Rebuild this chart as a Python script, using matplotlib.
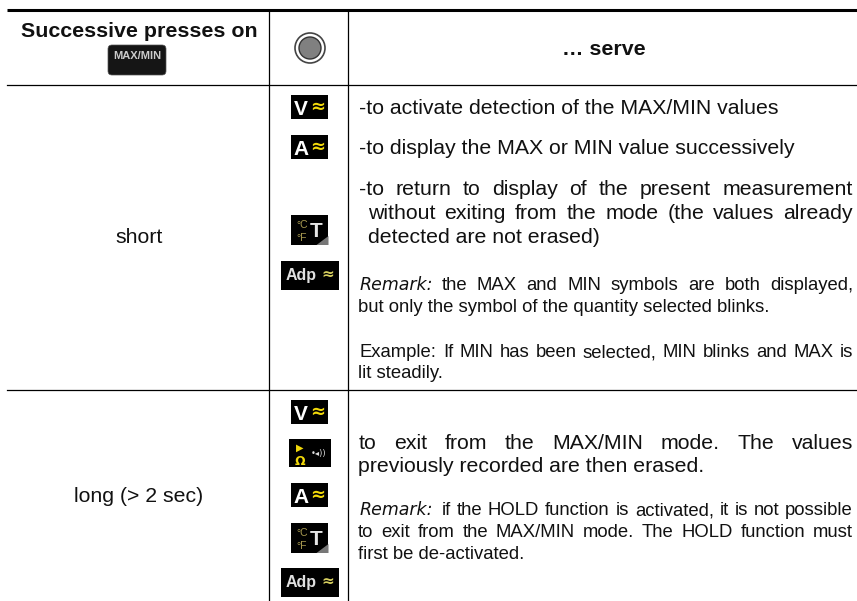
import matplotlib
matplotlib.use('Agg')
import matplotlib.pyplot as plt
import matplotlib.patches as patches

plt.rcParams['font.family'] = ['Liberation Sans', 'DejaVu Sans']

header_left = "Successive presses on"
header_right = "… serve"
row_labels = ["short", "long (> 2 sec)"]
short_icons = ["V", "A", "T", "Adp"]
long_icons = ["V", "D", "A", "T", "Adp"]

fig = plt.figure(figsize=(8.57, 6.01), dpi=100)
ax = fig.add_axes([0, 0, 1, 1])
ax.set_xlim(0, 857)
ax.set_ylim(601, 0)
ax.axis('off')

BODY = 15.3
SMALL = 13.3
RIGHT = 853


def justified(y, words, x0, x1, size=BODY):
    # spread the words by hand so the line fills x0..x1
    items = [ax.text(x0, y, w, fontsize=size, va='baseline', color='#111111') for w in words]
    r = fig.canvas.get_renderer()
    widths = [t.get_window_extent(r).width for t in items]
    gap = (x1 - x0 - sum(widths)) / max(len(words) - 1, 1)
    x = x0
    for t, w in zip(items, widths):
        t.set_x(x)
        x += w + gap


def remark(y, words, x0, x1):
    t = ax.text(x0, y, "Remark:", fontsize=12.5, style='italic', family='DejaVu Sans', va='baseline', color='#111111')
    w = t.get_window_extent(fig.canvas.get_renderer()).width
    justified(y, words, x0 + w + 8, x1, SMALL)


def icon(cx, cy, kind):
    w, h = {'V': (37, 24), 'A': (37, 24), 'T': (37, 30), 'Adp': (58, 29), 'D': (42, 28)}[kind]
    ax.add_patch(patches.Rectangle((cx - w / 2, cy - h / 2), w, h, fc='black', ec='none', zorder=2))
    if kind in ('V', 'A'):
        ax.text(cx - 9, cy + 8, kind, color='white', fontsize=15, weight='bold', ha='center', va='baseline', zorder=3)
        ax.text(cx + 8, cy + 5, "≈", color='#f2d90a', fontsize=13, weight='bold', ha='center', va='baseline',
                family='DejaVu Sans', zorder=3)
    elif kind == 'T':
        ax.text(cx - 8, cy - 2, "°C", color='#a89a50', fontsize=7.5, ha='center', va='baseline', zorder=3)
        ax.text(cx - 8, cy + 11, "°F", color='#a89a50', fontsize=7.5, ha='center', va='baseline', zorder=3)
        ax.text(cx + 6, cy + 7, "T", color='#e6e6e6', fontsize=15, weight='bold', ha='center', va='baseline', zorder=3)
        # grey corner at the bottom right
        ax.add_patch(patches.Polygon([(cx + w / 2, cy + h / 2), (cx + w / 2 - 12, cy + h / 2), (cx + w / 2, cy + h / 2 - 9)],
                                     fc='#777777', ec='none', zorder=3))
    elif kind == 'Adp':
        ax.text(cx - 9, cy + 5, "Adp", color='#e0e0e0', fontsize=11.5, weight='bold', ha='center', va='baseline', zorder=3)
        ax.text(cx + 18, cy + 4, "≈", color='#d8d060', fontsize=11, weight='bold', ha='center', va='baseline',
                family='DejaVu Sans', zorder=3)
    else:
        ax.text(cx - 10, cy - 2, "▶", color='#f2d90a', fontsize=7, ha='center', va='baseline', family='DejaVu Sans', zorder=3)
        ax.text(cx - 10, cy + 12, "Ω", color='#f2d90a', fontsize=9, weight='bold', ha='center', va='baseline',
                family='DejaVu Sans', zorder=3)
        ax.text(cx + 9, cy + 3, "•◂))", color='#dddddd', fontsize=6, ha='center', va='baseline', family='DejaVu Sans', zorder=3)


# table rules
ax.plot([7, 857], [9.5, 9.5], color='black', lw=2.2, solid_capstyle='butt')
ax.plot([7, 857], [85, 85], color='black', lw=0.9)
ax.plot([7, 857], [390, 390], color='black', lw=0.9)
ax.plot([269, 269], [10, 601], color='black', lw=0.9)
ax.plot([348, 348], [10, 601], color='black', lw=0.9)

# header
ax.text(139, 37, header_left, fontsize=15.4, weight='bold', ha='center', va='baseline', color='#111111')
ax.add_patch(patches.FancyBboxPatch((108, 45), 58, 30, boxstyle="round,pad=0,rounding_size=4", fc='#151515', ec='#555555', lw=0.5))
ax.text(137, 59, "MAX/MIN", fontsize=8, weight='bold', color='#cccccc', ha='center', va='baseline')
ax.add_patch(patches.Circle((310, 48), 15, fc='white', ec='#444444', lw=1.2))
ax.add_patch(patches.Circle((310, 48), 11, fc='#808080', ec='#333333', lw=1.0))
ax.text(604, 55, header_right, fontsize=15.4, weight='bold', ha='center', va='baseline', color='#111111')

# first column
ax.text(139, 243, row_labels[0], fontsize=BODY, ha='center', va='baseline', color='#111111')
ax.text(139, 502, row_labels[1], fontsize=BODY, ha='center', va='baseline', color='#111111')

# icons
for kind, cy in zip(short_icons, [107, 147, 230, 275]):
    icon(310, cy, kind)
for kind, cy in zip(long_icons, [412, 453, 495, 538, 582]):
    icon(310, cy, kind)

# right column, first row
ax.text(359, 114, "-to activate detection of the MAX/MIN values", fontsize=BODY, va='baseline', color='#111111')
ax.text(359, 154, "-to display the MAX or MIN value successively", fontsize=BODY, va='baseline', color='#111111')
justified(195, "-to return to display of the present measurement".split(), 359, RIGHT)
justified(219, "without exiting from the mode (the values already".split(), 368, RIGHT)
ax.text(368, 243, "detected are not erased)", fontsize=BODY, va='baseline', color='#111111')
remark(290, "the MAX and MIN symbols are both displayed,".split(), 360, RIGHT)
ax.text(358, 312, "but only the symbol of the quantity selected blinks.", fontsize=SMALL, va='baseline', color='#111111')
justified(357, "Example: If MIN has been selected, MIN blinks and MAX is".split(), 360, RIGHT, SMALL)
ax.text(358, 378, "lit steadily.", fontsize=SMALL, va='baseline', color='#111111')

# right column, second row
justified(449, "to exit from the MAX/MIN mode. The values".split(), 359, RIGHT)
ax.text(358, 472, "previously recorded are then erased.", fontsize=BODY, va='baseline', color='#111111')
remark(515, "if the HOLD function is activated, it is not possible".split(), 360, RIGHT)
justified(537, "to exit from the MAX/MIN mode. The HOLD function must".split(), 358, RIGHT, SMALL)
ax.text(358, 559, "first be de-activated.", fontsize=SMALL, va='baseline', color='#111111')

fig.savefig('out.png', dpi=100)
